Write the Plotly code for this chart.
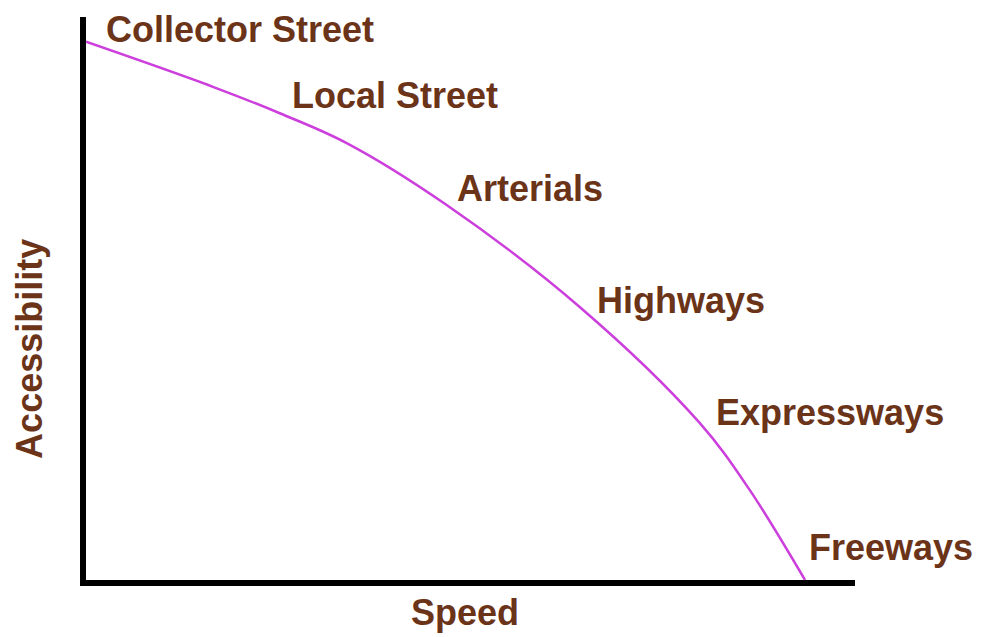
import plotly.graph_objects as go

# Curve (speed vs accessibility, 0-100 scale)
speed = [0.0, 16.5, 25.2, 33.9, 46.9, 64.2, 79.8, 86.3, 93.5]
accessibility = [95.6, 87.6, 82.9, 77.6, 66.6, 48.5, 27.9, 16.0, 0.0]

# Road class labels and where they sit
road_classes = ["Collector Street", "Local Street", "Arterials", "Highways", "Expressways", "Freeways"]
label_x = [2.7, 26.9, 48.4, 66.6, 82.1, 94.1]
label_y = [97.7, 86.0, 69.6, 49.7, 29.7, 5.7]

x_title = "Speed"
y_title = "Accessibility"

BROWN = "#6b3419"
FONT = "Liberation Sans, Arial, sans-serif"
SIZE = 36

fig = go.Figure()
fig.add_trace(go.Scatter(
    x=speed, y=accessibility, mode="lines",
    line=dict(color="#cc3fdc", width=2.5, shape="spline", smoothing=1.0),
    hoverinfo="skip", showlegend=False,
))

annotations = []
for name, lx, ly in zip(road_classes, label_x, label_y):
    annotations.append(dict(
        x=lx, y=ly, xref="x", yref="y", text="<b>%s</b>" % name,
        showarrow=False, xanchor="left", yanchor="middle", xshift=-3,
        font=dict(family=FONT, size=SIZE, color=BROWN),
    ))
annotations.append(dict(
    x=0.493, y=-0.058, xref="paper", yref="paper", text="<b>%s</b>" % x_title,
    showarrow=False, xanchor="center", yanchor="middle",
    font=dict(family=FONT, size=SIZE, color=BROWN),
))
annotations.append(dict(
    x=-0.0745, y=0.41, xref="paper", yref="paper", text="<b>%s</b>" % y_title,
    showarrow=False, xanchor="center", yanchor="middle", textangle=-90,
    font=dict(family=FONT, size=SIZE, color=BROWN),
))

fig.update_layout(
    width=982, height=637,
    margin=dict(l=86, r=127, t=17, b=57),
    paper_bgcolor="white", plot_bgcolor="white",
    annotations=annotations,
    xaxis=dict(range=[0, 100], showgrid=False, zeroline=False, showticklabels=False,
               ticks="", showline=True, linecolor="black", linewidth=6),
    yaxis=dict(range=[0, 100], showgrid=False, zeroline=False, showticklabels=False,
               ticks="", showline=True, linecolor="black", linewidth=6),
)

fig.write_html("out.html", config={"displayModeBar": False})

# remove the default page margin so the figure sits at the window's corner
with open("out.html", encoding="utf-8") as f:
    html = f.read()
html = html.replace("<body>", '<body style="margin:0;padding:0;overflow:hidden">', 1)
with open("out.html", "w", encoding="utf-8") as f:
    f.write(html)
